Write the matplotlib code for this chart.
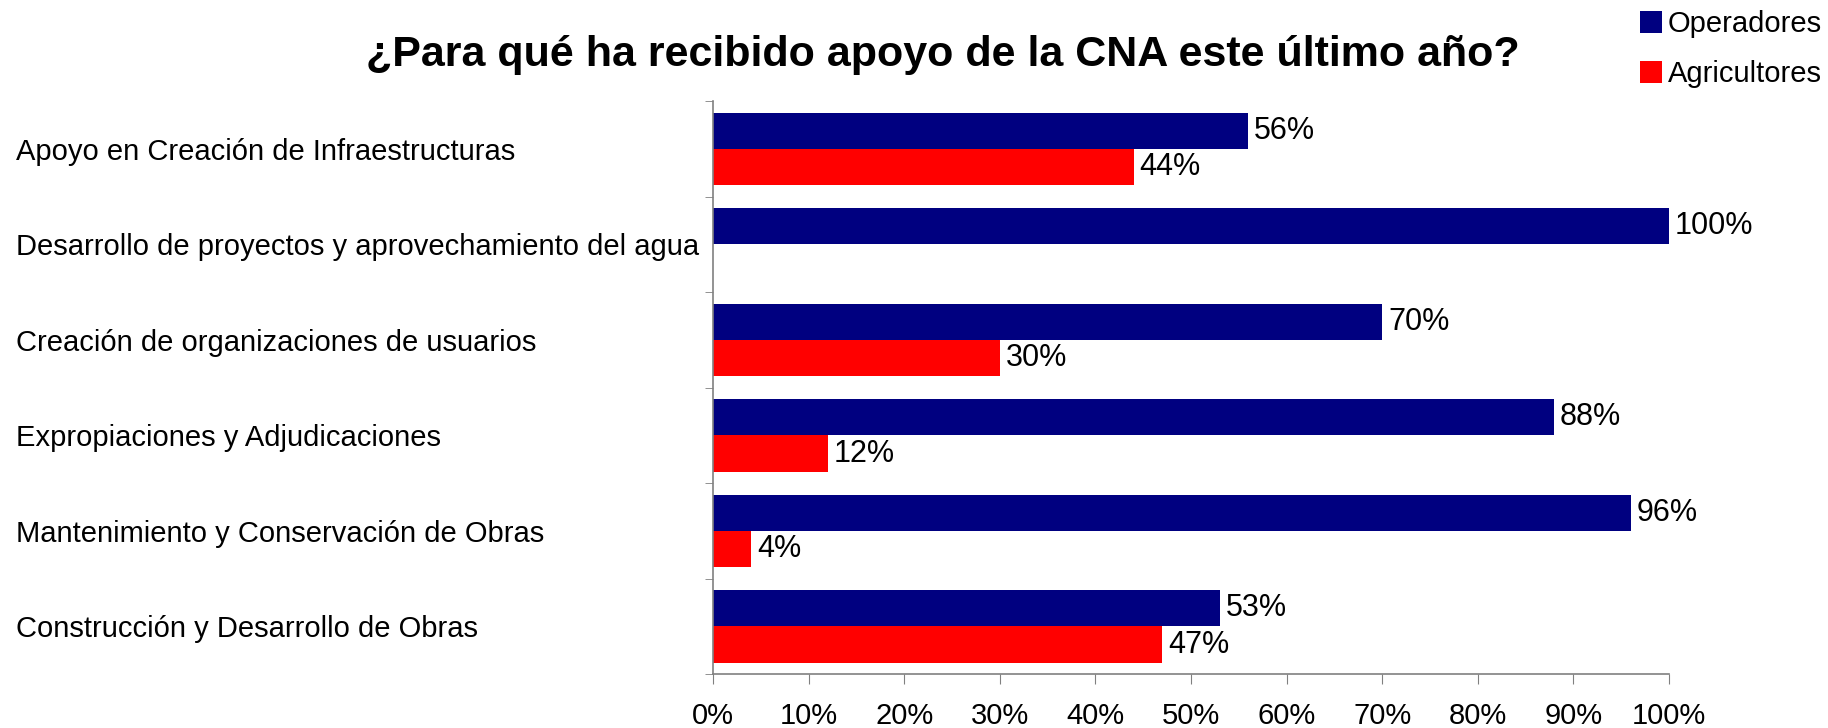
import numpy as np
import matplotlib.pyplot as plt
from matplotlib.ticker import MultipleLocator, PercentFormatter

plt.rcParams['font.family'] = ['Liberation Sans', 'DejaVu Sans']

# datos de la encuesta
categorias = ['Apoyo en Creación de Infraestructuras',
              'Desarrollo de proyectos y aprovechamiento del agua',
              'Creación de organizaciones de usuarios',
              'Expropiaciones y Adjudicaciones',
              'Mantenimiento y Conservación de Obras',
              'Construcción y Desarrollo de Obras']
operadores = [56, 100, 70, 88, 96, 53]
agricultores = [44, 0, 30, 12, 4, 47]

azul = '#000080'
rojo = '#FF0000'
fs = 21

fig = plt.figure(figsize=(18.28, 7.28), dpi=100)
ax = fig.add_axes([0.390, 0.074, 0.523, 0.787])

y = np.arange(len(categorias))
h = 0.38
b1 = ax.barh(y - h / 2, operadores, height=h, color=azul, label='Operadores')
b2 = ax.barh(y + h / 2, agricultores, height=h, color=rojo, label='Agricultores')

# etiquetas de valor (sin etiqueta cuando no hay barra)
for bars, vals in ((b1, operadores), (b2, agricultores)):
    for bar, v in zip(bars, vals):
        if v == 0:
            continue
        ax.text(v + 0.6, bar.get_y() + bar.get_height() / 2, f'{v}%',
                va='center', ha='left', fontsize=22)

ax.set_xlim(0, 100)
ax.set_ylim(len(categorias) - 0.5, -0.5)
ax.xaxis.set_major_locator(MultipleLocator(10))
ax.xaxis.set_major_formatter(PercentFormatter(decimals=0))

ax.set_yticks(y)
ax.set_yticklabels(categorias, ha='left', fontsize=fs)
ax.set_yticks(np.arange(-0.5, len(categorias)), minor=True)
ax.tick_params(axis='y', which='major', length=0, pad=502)
ax.tick_params(axis='y', which='minor', length=6, color='#808080', direction='out')
ax.tick_params(axis='x', length=7, color='#808080', labelsize=fs, pad=13)

for s in ('top', 'right'):
    ax.spines[s].set_visible(False)
for s in ('left', 'bottom'):
    ax.spines[s].set_color('#808080')
    ax.spines[s].set_linewidth(1.2)

fig.text(0.516, 0.924, '¿Para qué ha recibido apoyo de la CNA este último año?',
         ha='center', va='center', fontsize=31, fontweight='bold')

fig.legend(handles=[b1, b2], loc='upper right', bbox_to_anchor=(1.008, 1.014),
           frameon=False, fontsize=fs, handlelength=0.75, handleheight=0.75,
           handletextpad=0.2, labelspacing=0.75, borderpad=0.2)

fig.savefig('out.png', dpi=100)
